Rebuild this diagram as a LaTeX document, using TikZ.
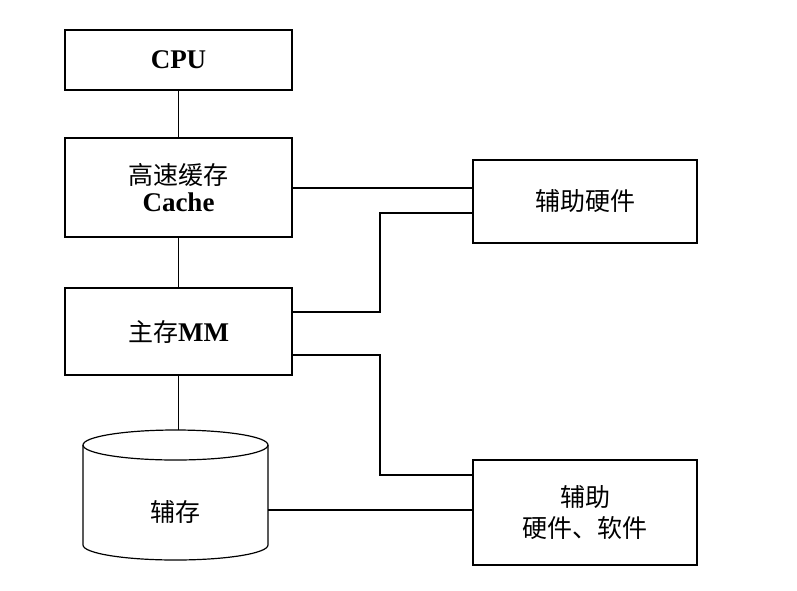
\documentclass[tikz,border=0pt]{standalone}
\usepackage{fontspec}
\setmainfont{Liberation Serif}
\newfontfamily\cjk{Noto Sans CJK SC}
\usetikzlibrary{positioning}
\newcommand{\lat}[1]{{\rmfamily\bfseries #1}}
\tikzset{
    unit/.style={draw, line width=1.2pt, align=center, font=\cjk\fontsize{25}{31}\selectfont, inner sep=0pt},
    link/.style={line width=1.2pt}
}
\begin{document}
\begin{tikzpicture}[x=1pt, y=-1pt]
    \useasboundingbox (0,0) rectangle (797,590);

    \node[unit, minimum width=227pt, minimum height=60pt] (cpu) at (178.5,60) {\lat{\fontsize{27}{31}\selectfont CPU}};
    \node[unit, minimum width=227pt, minimum height=99pt] (cache) at (178.5,187.5) {高速缓存\\[-4pt]\lat{\fontsize{27}{31}\selectfont Cache}};
    \node[unit, minimum width=227pt, minimum height=87pt] (mm) at (178.5,331.5) {主存\lat{\fontsize{27}{31}\selectfont MM}};
    \node[unit, minimum width=224pt, minimum height=83pt] (aux hw) at (585,201.5) {辅助硬件};
    \node[unit, minimum width=224pt, minimum height=105pt] (aux sw) at (585,512.5) {辅助\\硬件、软件};

    % secondary storage drum
    \draw[link] (83,445) -- (83,545) arc[start angle=180, end angle=360, x radius=92.5, y radius=-15] -- (268,445);
    \draw[link] (175.5,445) ellipse[x radius=92.5, y radius=15];
    \coordinate (disk top) at (178.5,430);
    \coordinate (disk east) at (268,510);
    \node[font=\cjk\fontsize{25}{31}\selectfont] (disk) at (175.5,512) {辅存};

    \draw[link] (cpu) -- (cache);
    \draw[link] (cache) -- (mm);
    \draw[link] (mm) -- (disk top);
    \draw[link] (cache.east |- 0,188) -- (aux hw.west |- 0,188);
    \draw[link] (mm.east |- 0,312) -- (380,312) -- (380,213) -- (aux hw.west |- 0,213);
    \draw[link] (mm.east |- 0,355) -- (380,355) -- (380,475) -- (aux sw.west |- 0,475);
    \draw[link] (disk east) -- (aux sw.west |- disk east);
\end{tikzpicture}
\end{document}
